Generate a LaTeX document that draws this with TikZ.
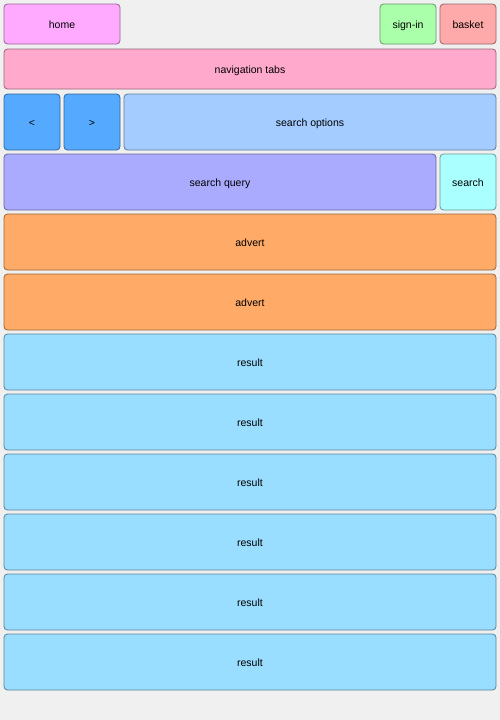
\documentclass[tikz,border=0pt]{standalone}
\usepackage{fontspec}
\setmainfont{Liberation Sans}
\definecolor{bg}{HTML}{F0F0F0}
\definecolor{chome}{HTML}{FFAAFF}
\definecolor{csign}{HTML}{AAFFAA}
\definecolor{cbask}{HTML}{FFAAAA}
\definecolor{cnav}{HTML}{FFAACC}
\definecolor{carrow}{HTML}{55AAFF}
\definecolor{copt}{HTML}{A5CCFF}
\definecolor{cquery}{HTML}{AAAAFF}
\definecolor{csearch}{HTML}{AAFFFF}
\definecolor{cadv}{HTML}{FFAA66}
\definecolor{cres}{HTML}{99DDFF}
\tikzset{
  pane/.style={fill=#1, draw=#1!60!black, rounded corners=3.5pt, line width=0.8pt},
  lbl/.style={font=\fontsize{10.5}{12}\selectfont, text=black, inner sep=0pt,
    text height=7.5pt, text depth=2.2pt}
}
\begin{document}
\begin{tikzpicture}[x=1pt,y=-1pt]
\fill[bg] (0,0) rectangle (500,720);
\useasboundingbox (0,0) rectangle (500,720);
\foreach \n/\c/\xa/\ya/\xb/\yb/\t in {
  home/chome/4/4/120/44/home,
  signin/csign/380/4/436/44/sign-in,
  basket/cbask/440/4/496/44/basket,
  nav/cnav/4/49/496/89/navigation tabs,
  back/carrow/4/94/60/150/<,
  fwd/carrow/64/94/120/150/>,
  opts/copt/124/94/496/150/search options,
  query/cquery/4/154/436/210/search query,
  search/csearch/440/154/496/210/search,
  adv1/cadv/4/214/496/270/advert,
  adv2/cadv/4/274/496/330/advert,
  r1/cres/4/334/496/390/result,
  r2/cres/4/394/496/450/result,
  r3/cres/4/454/496/510/result,
  r4/cres/4/514/496/570/result,
  r5/cres/4/574/496/630/result,
  r6/cres/4/634/496/690/result}
{
  \draw[pane=\c] (\xa,\ya) rectangle (\xb,\yb);
  \node[lbl] (\n) at ({(\xa+\xb)/2},{(\ya+\yb)/2+2}) {\t};
}
\end{tikzpicture}
\end{document}
